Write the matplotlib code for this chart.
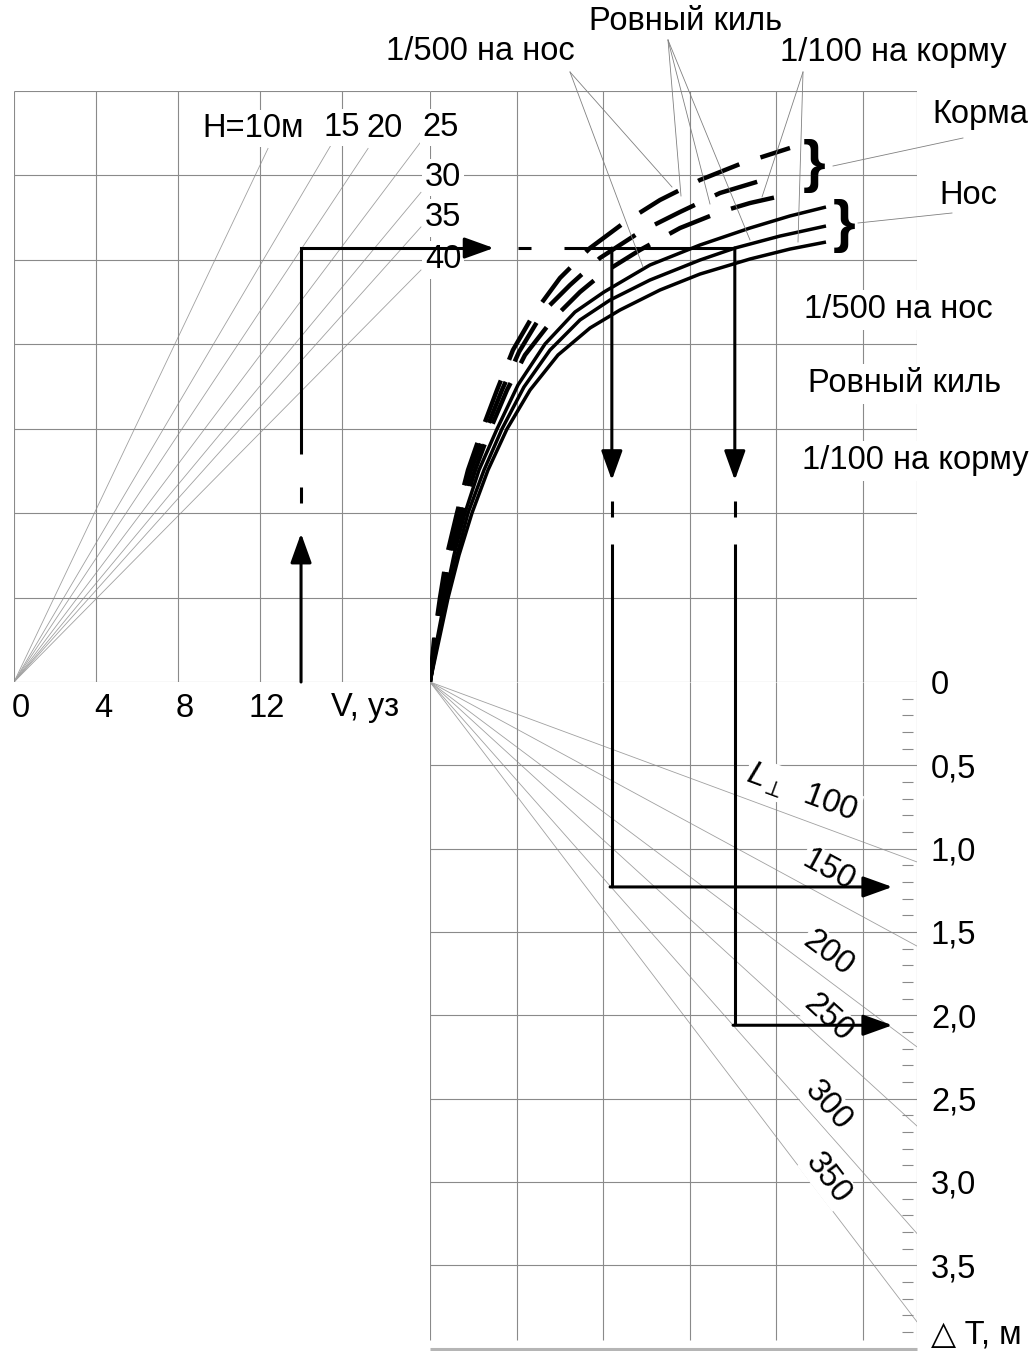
import numpy as np
import matplotlib
matplotlib.use('Agg')
import matplotlib.pyplot as plt
from matplotlib.transforms import ScaledTranslation

plt.rcParams['font.family'] = ['Liberation Sans', 'DejaVu Sans']
plt.rcParams['mathtext.fontset'] = 'custom'
plt.rcParams['mathtext.rm'] = 'Liberation Sans'
plt.rcParams['mathtext.it'] = 'Liberation Sans:italic'
plt.rcParams['font.size'] = 23.5

# ---- data ----
# speed scale (knots) and depth rays H (end points in knots / grid rows)
v_ticks = [0, 4, 8, 12]
h_names = ['H=10м', '15', '20', '25', '30', '35', '40']
h_end_v = [12.39, 15.56, 17.27, 19.85, 19.85, 19.85, 19.85]
h_end_y = [6.32, 6.40, 6.32, 6.40, 5.80, 5.39, 4.88]

# squat curves, upper right field (grid cells) - bow group, solid
bow_500_x = [0, 0.081, 0.173, 0.277, 0.404, 0.566, 0.774, 1.016, 1.328, 1.674, 2.009, 2.540, 3.118, 3.695, 4.157, 4.573]
bow_500_y = [0, 0.497, 0.995, 1.504, 2.002, 2.511, 2.997, 3.518, 4.003, 4.382, 4.619, 4.939, 5.176, 5.377, 5.520, 5.626]
bow_even_x = [0, 0.092, 0.196, 0.312, 0.439, 0.624, 0.831, 1.085, 1.386, 1.732, 2.079, 2.540, 3.118, 3.522, 4.042, 4.573]
bow_even_y = [0, 0.497, 0.995, 1.504, 2.002, 2.511, 2.997, 3.494, 3.932, 4.288, 4.524, 4.761, 4.998, 5.140, 5.282, 5.401]
bow_100_x = [0, 0.104, 0.208, 0.335, 0.485, 0.670, 0.889, 1.155, 1.478, 1.848, 2.194, 2.656, 3.118, 3.695, 4.157, 4.573]
bow_100_y = [0, 0.497, 0.995, 1.504, 2.002, 2.511, 2.997, 3.458, 3.873, 4.193, 4.406, 4.643, 4.832, 5.010, 5.128, 5.211]

# stern group, dashed
stern_500_x = [0, 0.046, 0.115, 0.196, 0.312, 0.439, 0.600, 0.774, 0.958, 1.212, 1.501, 1.848, 2.252, 2.656, 3.118, 3.580, 4.157]
stern_500_y = [0, 0.497, 0.995, 1.504, 2.002, 2.511, 2.985, 3.458, 3.932, 4.382, 4.785, 5.140, 5.448, 5.709, 5.946, 6.135, 6.325]
stern_even_x = [0, 0.058, 0.127, 0.219, 0.335, 0.473, 0.647, 0.831, 1.028, 1.305, 1.617, 1.963, 2.425, 2.887, 3.349, 3.961]
stern_even_y = [0, 0.497, 0.995, 1.504, 2.002, 2.511, 2.985, 3.458, 3.910, 4.382, 4.702, 5.022, 5.330, 5.567, 5.792, 5.981]
stern_100_x = [0, 0.069, 0.150, 0.242, 0.370, 0.520, 0.693, 0.889, 1.097, 1.420, 1.732, 1.998, 2.425, 2.887, 3.349, 3.695, 4.157]
stern_100_y = [0, 0.497, 0.995, 1.504, 2.002, 2.511, 2.985, 3.458, 3.873, 4.299, 4.619, 4.844, 5.117, 5.377, 5.567, 5.673, 5.780]

# ship length rays, lower field: dT reached at the right border
l_values = [100, 150, 200, 250, 300, 350]
l_end_dT = [1.08, 1.585, 2.19, 2.665, 3.31, 3.84]

dT_ticks = [0, 0.5, 1.0, 1.5, 2.0, 2.5, 3.0, 3.5]
dT_labels = ['0', '0,5', '1,0', '1,5', '2,0', '2,5', '3,0', '3,5']

# worked example
v_sample = 14.0
level = 5.14
x_cross = [2.10, 3.52]
dT_found = [1.23, 2.06]

# ---- layout ----
W, H = 1034, 1351
fig = plt.figure(figsize=(W / 100, H / 100), dpi=100, facecolor='white')


def box(x0, y0, x1, y1):
    return [x0 / W, 1 - y1 / H, (x1 - x0) / W, (y1 - y0) / H]


GRID = '#8a8a8a'
RAY = '#a0a0a0'
XR = 5.624  # right border in grid cells
fs = 23.5

ax_l = fig.add_axes(box(14, 91, 430, 682))
ax_u = fig.add_axes(box(430, 91, 917, 682))
ax_d = fig.add_axes(box(430, 682, 917, 1349))
ax_px = fig.add_axes([0, 0, 1, 1])

ax_l.set_xlim(0, 20.29)
ax_l.set_ylim(0, 7)
ax_u.set_xlim(0, XR)
ax_u.set_ylim(0, 7)
ax_d.set_xlim(0, XR)
ax_d.set_ylim(4.003, 0)
ax_px.set_xlim(0, W)
ax_px.set_ylim(H, 0)

for ax in (ax_l, ax_u, ax_d, ax_px):
    ax.set_frame_on(False)
    ax.patch.set_visible(False)
ax_u.axis('off')
ax_px.axis('off')
ax_l.set_zorder(3)
ax_u.set_zorder(2)
ax_d.set_zorder(2)
ax_px.set_zorder(5)

# grid
ax_l.vlines([0, 4, 8, 12, 16], 0, 7, color=GRID, lw=0.8)
ax_l.hlines(range(8), 0, 20.29, color=GRID, lw=0.8)
ax_u.vlines([0, 1, 2, 3, 4, 5, XR], 0, 7, color=GRID, lw=0.8)
ax_u.hlines(range(8), 0, XR, color=GRID, lw=0.8)
ax_d.vlines([0, 1, 2, 3, 4, 5, XR], 0, 3.95, color=GRID, lw=0.8)
ax_d.hlines(dT_ticks[1:], 0, XR, color=GRID, lw=0.8)
ax_d.hlines(4.0, 0, XR, color='#b5b5b5', lw=2.2, clip_on=False)
minor = [t / 10 for t in range(1, 40) if t % 5]
ax_d.hlines(minor, 5.45, 5.58, color=GRID, lw=0.8)

# speed axis
ax_l.set_yticks([])
ax_l.set_xticks(v_ticks, [str(v) for v in v_ticks])
ax_l.tick_params(axis='x', length=0, pad=8, labelsize=fs)
shift = ScaledTranslation(7 / 100, 0, fig.dpi_scale_trans)
for lab in ax_l.get_xticklabels():
    lab.set_transform(lab.get_transform() + shift)
ax_l.set_xlabel('V, уз', fontsize=fs)
ax_l.xaxis.set_label_coords(17.1 / 20.29, -0.0165)

# dT axis
ax_d.set_xticks([])
ax_d.yaxis.tick_right()
ax_d.set_yticks(dT_ticks, dT_labels)
ax_d.tick_params(axis='y', length=0, pad=10, labelsize=fs)
ax_d.annotate('△ T, м', xy=(XR, 3.92), xytext=(14, 0), textcoords='offset pixels',
              ha='left', va='center', fontsize=fs, annotation_clip=False)

# depth rays
h_offsets = [(-15, 20), (9, 14), (16, 20), (20, 14), (22, 15), (22, 9), (22, 10)]
for name, ev, ey, off in zip(h_names, h_end_v, h_end_y, h_offsets):
    ax_l.plot([0, ev], [0, ey], color=RAY, lw=0.6, zorder=1.5)
    ax_l.annotate(name, xy=(ev, ey), xytext=off, textcoords='offset pixels',
                  ha='center', va='center', fontsize=fs, zorder=3, annotation_clip=False,
                  bbox=dict(boxstyle='square,pad=0.1', fc='white', ec='none'))

# squat curves
for cx, cy in [(bow_500_x, bow_500_y), (bow_even_x, bow_even_y), (bow_100_x, bow_100_y)]:
    ax_u.plot(cx, cy, color='black', lw=2.5, solid_capstyle='butt', zorder=3)
for cx, cy in [(stern_500_x, stern_500_y), (stern_even_x, stern_even_y), (stern_100_x, stern_100_y)]:
    ax_u.plot(cx, cy, color='black', lw=3.2, linestyle=(0, (10, 5)),
              dash_capstyle='butt', zorder=3)

# length rays with labels
p0 = ax_d.transData.transform((0, 0))
for i, (L, d) in enumerate(zip(l_values, l_end_dT)):
    ax_d.plot([0, XR], [0, d], color=RAY, lw=0.6, zorder=1.5)
    p1 = ax_d.transData.transform((XR, d))
    ang = np.degrees(np.arctan2(p1[1] - p0[1], p1[0] - p0[0]))
    xl = 4.30 if i == 0 else 4.6
    txt = r'$L_{\perp}$  100' if i == 0 else str(L)
    ax_d.annotate(txt, xy=(xl, d * xl / XR), xytext=(0, 27), textcoords='offset pixels',
                  ha='center', va='center', rotation=ang, rotation_mode='anchor',
                  fontsize=fs, zorder=3,
                  bbox=dict(boxstyle='square,pad=0.05', fc='white', ec='none'))


# worked example
def arrow(ax, a, b):
    ax.annotate('', xy=b, xytext=a, annotation_clip=False, zorder=6,
                arrowprops=dict(arrowstyle='-|>,head_length=1.0,head_width=0.36',
                                mutation_scale=18, lw=2.2, color='black',
                                shrinkA=0, shrinkB=0))


K = dict(color='black', lw=2.2, clip_on=False, zorder=6, solid_capstyle='butt')
arrow(ax_l, (v_sample, 0), (v_sample, 1.76))
ax_l.plot([v_sample, v_sample], [2.12, 2.31], **K)
ax_l.plot([v_sample, v_sample, 22.6], [2.70, level, level], solid_joinstyle='miter', **K)
arrow(ax_l, (22.0, level), (23.4, level))
ax_l.plot([24.6, 25.2], [level, level], **K)
ax_u.plot([1.55, x_cross[-1]], [level, level], **K)
for xc, d in zip(x_cross, dT_found):
    arrow(ax_u, (xc, level), (xc, 2.39))
    ax_u.plot([xc, xc], [2.14, 1.96], **K)
    ax_d.plot([xc, xc], [-0.83, d], solid_joinstyle='miter', **K)
    arrow(ax_d, (xc - 0.02, d), (5.34, d))

# annotations: titles, braces, leaders
ax_px.text(480, 52, '1/500 на нос', ha='center', va='center', fontsize=fs)
ax_px.text(686, 22, 'Ровный киль', ha='center', va='center', fontsize=fs)
ax_px.text(893, 52, '1/100 на корму', ha='center', va='center', fontsize=fs)
ax_px.text(980, 115, 'Корма', ha='center', va='center', fontsize=fs)
ax_px.text(968, 196, 'Нос', ha='center', va='center', fontsize=fs)
wb = dict(boxstyle='square,pad=0.15', fc='white', ec='none')
ax_px.text(898, 310, '1/500 на нос', ha='center', va='center', fontsize=fs, bbox=wb)
ax_px.text(905, 384, 'Ровный киль', ha='center', va='center', fontsize=fs, bbox=wb)
ax_px.text(915, 461, '1/100 на корму', ha='center', va='center', fontsize=fs, bbox=wb)
ax_px.text(814, 166, '}', ha='center', va='center', fontsize=42, fontweight='bold')
ax_px.text(844, 226, '}', ha='center', va='center', fontsize=42, fontweight='bold')

leaders = [((570, 72), (643, 267)), ((570, 72), (672, 187)),
           ((668, 40), (681, 196)), ((668, 40), (710, 204)), ((668, 40), (750, 240)),
           ((803, 72), (762, 197)), ((803, 72), (798, 242)),
           ((833, 166), (963, 138)), ((858, 223), (952, 213))]
for a, b in leaders:
    ax_px.plot([a[0], b[0]], [a[1], b[1]], color='#808080', lw=0.6)

fig.savefig('out.png', dpi=100, facecolor='white')
